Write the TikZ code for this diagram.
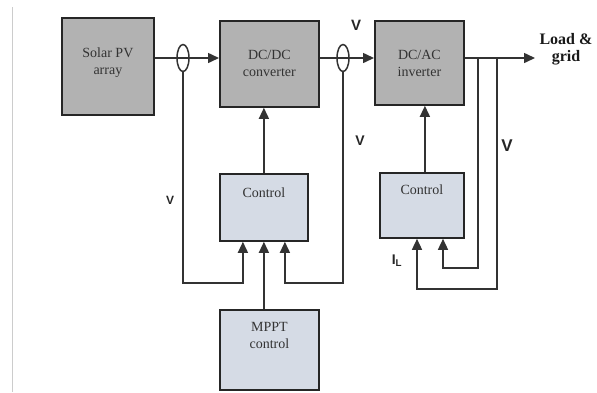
\documentclass[tikz,border=0pt]{standalone}
\usepackage{fontspec}
\setmainfont{Liberation Serif}
\newfontfamily\labfont{Liberation Sans}
\usetikzlibrary{arrows.meta, positioning, shapes.geometric}
\definecolor{ctlfill}{HTML}{D5DBE5}
\tikzset{
    blk/.style={draw=black!85, line width=1.8pt, inner sep=0pt, anchor=north west},
    pwr/.style={blk, fill=black!30},
    ctl/.style={blk, fill=ctlfill},
    txt/.style={font=\fontsize{14}{17}\selectfont, align=center, text=black!80, anchor=north},
    sig/.style={draw=black!80, line width=1.5pt},
    arr/.style={sig, -{Triangle[length=11pt, width=10pt]}},
    sens/.style={ellipse, draw=black!80, line width=1.5pt, minimum width=12pt, minimum height=27pt, inner sep=0pt},
    vl/.style={font=\labfont\bfseries, text=black!85}
}

\begin{document}
\begin{tikzpicture}[x=1pt, y=-1pt]
    \useasboundingbox (0,0) rectangle (597,392);
    \draw[black!20, line width=1pt] (12,7) -- (12,392);

    % Blocks
    \node[pwr, minimum width=92, minimum height=97] (pv) at (61,17) {};
    \node[pwr, minimum width=99, minimum height=86] (dcdc) at (219,20) {};
    \node[pwr, minimum width=89, minimum height=84] (dcac) at (374,20) {};
    \node[ctl, minimum width=88, minimum height=67] (ctla) at (219,173) {};
    \node[ctl, minimum width=84, minimum height=65] (ctlb) at (379,172) {};
    \node[ctl, minimum width=99, minimum height=80] (mppt) at (219,309) {};

    % Block texts
    \node[txt, below=27pt of pv.north] {Solar PV\\array};
    \node[txt, below=27pt of dcdc.north] {DC/DC\\converter};
    \node[txt, below=27pt of dcac.north] {DC/AC\\inverter};
    \node[txt, below=11pt of ctla.north] {Control};
    \node[txt, below=9pt of ctlb.north] {Control};
    \node[txt, below=10pt of mppt.north] {MPPT\\control};

    % Sensors and taps
    \node[sens] (s1) at (183,58) {};
    \node[sens] (s2) at (343,58) {};
    \coordinate (out) at (535,58);
    \coordinate (ta) at (478,58);
    \coordinate (tb) at (497,58);
    \coordinate (il) at (417,289);
    \coordinate (vb) at (443,268);

    % Power path
    \draw[arr] (pv.east |- s1) -- (dcdc.west |- s1);
    \draw[arr] (dcdc.east |- s2) -- (dcac.west |- s2);
    \draw[arr] (dcac.east |- s2) -- (out);
    \node[font=\bfseries\fontsize{16}{17}\selectfont, align=center, anchor=west, text=black!90] (load) at (536,49) {Load \&\\grid};

    % Control paths
    \draw[arr] (ctla.north) -- (ctla.north |- dcdc.south);
    \draw[arr] (ctlb.north) ++(3,0) coordinate (cb) -- (cb |- dcac.south);
    \draw[arr] (s1.south) |- ([xshift=-21pt]ctla.south |- 0,283) -- ([xshift=-21pt]ctla.south);
    \draw[arr] (s2.south) |- ([xshift=21pt]ctla.south |- 0,283) -- ([xshift=21pt]ctla.south);
    \draw[arr] (mppt.north -| ctla.south) -- (ctla.south);
    \draw[arr] (tb) |- (il) -- (il |- ctlb.south);
    \draw[arr] (ta) |- (vb) -- (vb |- ctlb.south);

    % Signal labels
    \node[vl, font=\labfont\bfseries\fontsize{15}{15}\selectfont] at (356,25) {V};
    \node[vl, font=\labfont\bfseries\fontsize{14}{14}\selectfont] at (360,141) {V};
    \node[vl, font=\labfont\bfseries\fontsize{17}{17}\selectfont] at (507,146) {V};
    \node[vl, font=\labfont\bfseries\fontsize{12}{12}\selectfont] at (170,200) {V};
    \node[vl, font=\labfont\bfseries\fontsize{14}{14}\selectfont] at (397,261) {I\textsubscript{L}};
\end{tikzpicture}
\end{document}
